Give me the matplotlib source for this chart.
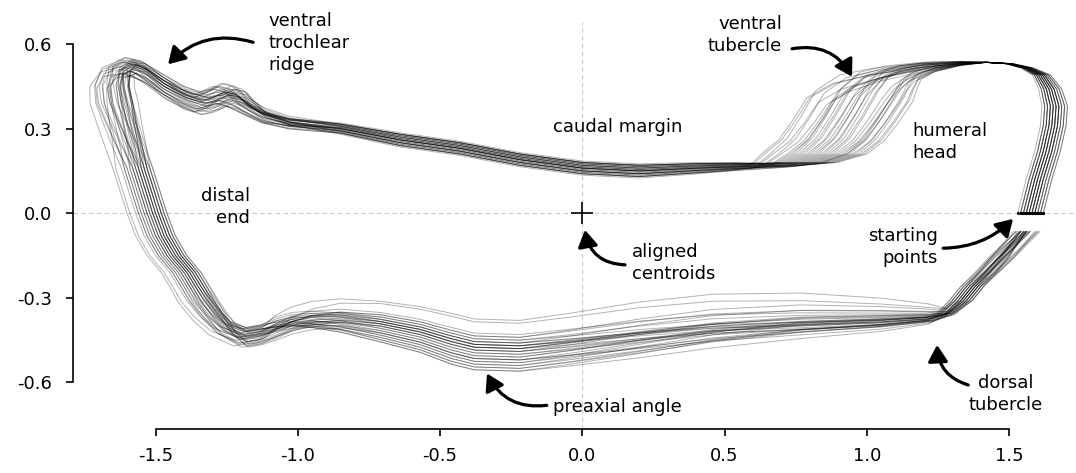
import numpy as np
import matplotlib
matplotlib.use("Agg")
import matplotlib.pyplot as plt

plt.rcParams['font.family'] = ['DejaVu Sans']
plt.rcParams['axes.unicode_minus'] = False

# mean outline (counter-clockwise from the starting point)
mean_x = [1.57, 1.60, 1.63, 1.65, 1.655, 1.64, 1.61, 1.56, 1.50, 1.42,
          1.33, 1.22, 1.13, 1.08, 1.04, 0.99, 0.94, 0.88, 0.80, 0.70,
          0.55, 0.41, 0.20, 0.00, -0.22, -0.43, -0.64, -0.85, -1.03, -1.12,
          -1.18, -1.22, -1.26, -1.30, -1.34, -1.40, -1.47, -1.54, -1.59, -1.63,
          -1.64, -1.63, -1.61, -1.585, -1.56, -1.535, -1.51, -1.48, -1.44, -1.39,
          -1.36, -1.33, -1.29, -1.25, -1.19, -1.13, -1.08, -1.02, -0.95, -0.85,
          -0.71, -0.57, -0.46, -0.38, -0.22, -0.04, 0.20, 0.46, 0.77, 1.05,
          1.22, 1.28, 1.33, 1.37, 1.42, 1.47, 1.51, 1.55]
mean_y = [0.00, 0.12, 0.22, 0.31, 0.38, 0.44, 0.49, 0.515, 0.53, 0.535,
          0.53, 0.515, 0.49, 0.46, 0.41, 0.33, 0.26, 0.21, 0.18, 0.17,
          0.165, 0.16, 0.15, 0.16, 0.19, 0.23, 0.26, 0.30, 0.32, 0.345,
          0.38, 0.41, 0.42, 0.40, 0.39, 0.41, 0.45, 0.50, 0.52, 0.50,
          0.45, 0.39, 0.32, 0.24, 0.16, 0.08, 0.00, -0.08, -0.15, -0.21,
          -0.26, -0.31, -0.365, -0.41, -0.44, -0.43, -0.41, -0.39, -0.38, -0.38,
          -0.40, -0.43, -0.465, -0.485, -0.49, -0.47, -0.44, -0.41, -0.39, -0.38,
          -0.37, -0.355, -0.31, -0.26, -0.21, -0.155, -0.11, -0.065]

# where along the outline each kind of shape difference acts: (first point, weights)
w_head = (0, [1, 1, 1, 1, 1, 0.9, 0.7, 0.5, 0.3, 0.15])
w_head_end = (74, [0.2, 0.4, 0.6, 0.8])
w_tub = (11, [0.2, 0.5, 0.8, 1, 1, 1, 1, 0.8, 0.5, 0.2])
w_tuby = (10, [0.2, 0.5, 0.8, 1, 0.8, 0.5, 0.2])
w_caud = (19, [0.3, 0.6, 0.8, 1, 1, 1, 1, 1, 0.8, 0.6, 0.3])
w_ridge = (28, [0.3, 0.6, 0.8, 1, 1, 1, 1, 1, 1, 1, 0.8, 0.5, 0.2])
w_bump = (29, [0.3, 0.7, 1, 1, 1, 0.7, 0.3])
w_upleft = (37, [0.3, 0.6, 1, 1, 1, 0.7, 0.4])
w_distal = (38, [0.3, 0.6, 0.9, 1, 1, 1, 1, 1, 1, 1, 1, 1, 1, 1, 0.9, 0.7, 0.4, 0.2])
w_low = (51, [0.2, 0.4, 0.7, 1, 1, 1, 0.8, 0.5, 0.2])
w_base = (56, [0.2, 0.35, 0.5, 0.65, 0.8, 0.9, 1, 1, 1, 1, 1, 0.9, 0.7, 0.5, 0.3, 0.1])
w_base2 = (65, [0.2, 0.5, 0.8, 1, 0.8, 0.5, 0.2])
w_dors = (70, [0.4, 0.8, 1, 1, 1, 1, 0.8, 0.6])

# per-specimen differences from the mean, estimated from the spread of lines
tub_dx = [-0.22, -0.15, -0.08, 0.02, 0.08, -0.05, -0.18, 0.05, -0.11, 0.10, -0.02, -0.25,
          0.04, -0.13, 0.07, -0.06, -0.19, 0.12, -0.09, 0.00, -0.16, 0.06, -0.03, -0.21,
          0.09, -0.12, 0.03, -0.07, -0.14, 0.11, -0.01, -0.24, 0.05, -0.10, -0.04, 0.01]
tub_dy = [0.03, -0.01, 0.02, -0.02, 0.00, 0.04, -0.03, 0.01, 0.02, -0.02, 0.03, 0.00,
          -0.01, 0.04, -0.03, 0.01, 0.02, -0.02, 0.00, 0.03, -0.01, 0.01, 0.04, -0.02,
          0.00, 0.02, -0.03, 0.01, 0.03, -0.01, 0.02, 0.00, -0.02, 0.03, 0.01, -0.01]
head_dx = [0.02, -0.03, 0.04, 0.00, -0.01, 0.05, -0.02, 0.01, 0.03, -0.04, 0.02, 0.00,
           -0.01, 0.04, -0.02, 0.01, 0.03, -0.03, 0.00, 0.02, -0.01, 0.05, -0.02, 0.01,
           0.00, -0.03, 0.03, 0.02, -0.01, 0.01, -0.02, 0.04, 0.00, -0.01, 0.02, 0.01]
base_dy = [0.02, -0.05, 0.10, 0.01, -0.03, 0.04, -0.07, 0.00, 0.03, -0.02, 0.06, -0.04,
           0.01, -0.06, 0.02, 0.05, -0.01, 0.03, -0.05, 0.00, 0.11, -0.03, 0.02, -0.02,
           0.04, -0.06, 0.01, 0.03, -0.04, 0.00, 0.02, -0.01, 0.05, -0.03, 0.01, -0.07]
base2_dy = [-0.020, 0.030, 0.010, -0.030, 0.020, 0.000, 0.025, -0.010, -0.025, 0.015, -0.005, 0.030,
            0.000, 0.020, -0.030, 0.010, -0.015, 0.025, 0.005, -0.020, 0.030, -0.010, 0.000, 0.020,
            -0.025, 0.010, 0.015, -0.030, 0.005, 0.020, -0.010, 0.000, 0.030, -0.020, 0.010, -0.005]
low_dy = [0.030, 0.000, -0.020, 0.025, -0.035, 0.010, 0.020, -0.010, 0.035, -0.025, 0.005, 0.015,
          -0.030, 0.020, 0.000, -0.015, 0.030, -0.005, 0.010, -0.030, 0.025, 0.000, -0.020, 0.015,
          -0.010, 0.035, -0.025, 0.005, 0.020, -0.035, 0.010, 0.000, -0.015, 0.030, -0.005, 0.020]
caud_dy = [0.010, -0.020, 0.000, 0.020, -0.010, 0.015, -0.025, 0.005, 0.020, -0.010, 0.000, 0.010,
           -0.020, 0.025, -0.005, 0.010, -0.015, 0.000, 0.020, -0.010, 0.005, -0.020, 0.015, 0.000,
           -0.010, 0.020, -0.005, 0.010, -0.020, 0.000, 0.015, -0.010, 0.005, 0.020, -0.015, 0.000]
ridge_dy = [0.02, -0.03, 0.01, 0.04, -0.02, 0.00, 0.03, -0.04, 0.01, 0.02, -0.01, 0.03,
            -0.03, 0.00, 0.02, -0.02, 0.04, 0.01, -0.01, 0.00, -0.04, 0.02, 0.01, -0.02,
            0.03, 0.00, -0.03, 0.02, 0.01, -0.01, 0.03, -0.02, 0.00, 0.01, -0.03, 0.02]
bump_dx = [0.020, -0.030, 0.040, 0.000, -0.020, 0.030, -0.040, 0.010, 0.020, -0.010, 0.035, -0.025,
           0.000, 0.015, -0.035, 0.030, -0.010, 0.005, 0.025, -0.020, 0.000, 0.040, -0.030, 0.010,
           -0.015, 0.020, 0.030, -0.040, 0.005, -0.010, 0.025, -0.020, 0.015, 0.000, -0.030, 0.035]
upleft_dx = [-0.030, 0.020, 0.000, -0.040, 0.030, 0.010, -0.020, 0.040, -0.010, 0.000, 0.025, -0.035,
             0.015, 0.030, -0.020, 0.000, -0.045, 0.020, 0.035, -0.010, 0.000, -0.025, 0.040, -0.015,
             0.010, 0.030, -0.030, 0.000, 0.020, -0.040, 0.015, 0.025, -0.010, 0.035, -0.020, 0.005]
distal_dx = [-0.02, 0.03, -0.05, 0.01, 0.04, -0.03, 0.00, -0.08, 0.02, 0.05, -0.01, -0.04,
             0.03, 0.00, -0.06, 0.02, 0.04, -0.02, 0.01, -0.09, 0.03, 0.00, -0.03, 0.05,
             -0.01, 0.02, -0.04, 0.01, 0.03, -0.02, 0.00, -0.05, 0.04, 0.01, -0.01, 0.02]
dors_dx = [0.01, -0.02, 0.03, 0.00, -0.03, 0.02, 0.04, -0.01, 0.00, 0.02, -0.04, 0.01,
           0.03, -0.02, 0.00, 0.01, -0.03, 0.04, 0.02, -0.01, 0.00, 0.03, -0.02, 0.01,
           -0.04, 0.02, 0.00, -0.01, 0.03, -0.03, 0.01, 0.02, -0.02, 0.00, 0.04, -0.01]

x_ticks = [-1.5, -1.0, -0.5, 0.0, 0.5, 1.0, 1.5]
x_labels = ["-1.5", "-1.0", "-0.5", "0.0", "0.5", "1.0", "1.5"]
y_ticks = [-0.6, -0.3, 0.0, 0.3, 0.6]
y_labels = ["-0.6", "-0.3", "0.0", "0.3", "0.6"]

n_pts = len(mean_x)


def weights(spec):
    w = np.zeros(n_pts)
    first, vals = spec
    w[first:first + len(vals)] = vals
    return w


x_modes = [(w_head, head_dx), (w_head_end, head_dx), (w_tub, tub_dx), (w_bump, bump_dx),
           (w_upleft, upleft_dx), (w_distal, distal_dx), (w_dors, dors_dx)]
y_modes = [(w_tuby, tub_dy), (w_caud, caud_dy), (w_ridge, ridge_dy), (w_low, low_dy),
           (w_base, base_dy), (w_base2, base2_dy)]

fig = plt.figure(figsize=(10.76, 4.73), dpi=100)
ax = fig.add_axes([73 / 1076, 44 / 473, 1003 / 1076, 407 / 473])

ax.axhline(0, color='#c8c8c8', lw=0.8, ls=(0, (4, 3)), zorder=0)
ax.axvline(0, color='#c8c8c8', lw=0.8, ls=(0, (4, 3)), zorder=0)

start_x = []
start_y = []
for i in range(len(tub_dx)):
    ox = np.array(mean_x, dtype=float)
    oy = np.array(mean_y, dtype=float)
    for spec, vals in x_modes:
        ox = ox + vals[i] * weights(spec)
    for spec, vals in y_modes:
        oy = oy + vals[i] * weights(spec)
    ax.plot(ox, oy, color='black', alpha=0.3, lw=0.7, zorder=2)
    start_x.append(ox[0])
    start_y.append(oy[0])
ax.scatter(start_x, start_y, s=5, color='black', zorder=3, linewidths=0)

# aligned centroids
ax.plot([0], [0], marker='+', color='black', markersize=16, mew=1.2, zorder=4)

fs = 13
ls = 1.3
ax.text(-1.104, 0.604, "ventral\ntrochlear\nridge", ha='left', va='center', fontsize=fs, linespacing=ls)
ax.text(0.702, 0.632, "ventral\ntubercle", ha='right', va='center', fontsize=fs, linespacing=ls)
ax.text(0.125, 0.306, "caudal margin", ha='center', va='center', fontsize=fs)
ax.text(1.159, 0.253, "humeral\nhead", ha='left', va='center', fontsize=fs, linespacing=ls)
ax.text(-1.169, 0.022, "distal\nend", ha='right', va='center', fontsize=fs, linespacing=ls)
ax.text(0.175, -0.176, "aligned\ncentroids", ha='left', va='center', fontsize=fs, linespacing=ls)
ax.text(1.250, -0.120, "starting\npoints", ha='right', va='center', fontsize=fs, linespacing=ls)
ax.text(-0.104, -0.687, "preaxial angle", ha='left', va='center', fontsize=fs)
ax.text(1.489, -0.641, "dorsal\ntubercle", ha='center', va='center', fontsize=fs, linespacing=ls)

arrows = [
    ((-1.157, 0.606), (-1.456, 0.528), 0.3),
    ((0.737, 0.583), (0.948, 0.484), -0.35),
    ((0.150, -0.183), (0.009, -0.059), -0.4),
    ((1.268, -0.124), (1.514, -0.020), 0.2),
    ((-0.125, -0.681), (-0.335, -0.568), -0.35),
    ((1.356, -0.609), (1.247, -0.467), -0.35),
]
for tail, head, rad in arrows:
    ax.annotate("", xy=head, xytext=tail, annotation_clip=False,
                arrowprops=dict(arrowstyle='-|>,head_length=0.5,head_width=0.3',
                                connectionstyle=f'arc3,rad={rad}', color='black',
                                lw=2.3, mutation_scale=20, shrinkA=0, shrinkB=0))

ax.set_xlim(-1.790, 1.735)
ax.set_ylim(-0.765, 0.678)
ax.spines['top'].set_visible(False)
ax.spines['right'].set_visible(False)
ax.spines['left'].set_bounds(-0.6, 0.6)
ax.spines['bottom'].set_bounds(-1.5, 1.5)
ax.spines['left'].set_linewidth(1.2)
ax.spines['bottom'].set_linewidth(1.2)
ax.set_xticks(x_ticks)
ax.set_xticklabels(x_labels)
ax.set_yticks(y_ticks)
ax.set_yticklabels(y_labels)
ax.tick_params(direction='out', length=5, width=1.2, labelsize=13, colors='black')
ax.tick_params(axis='y', pad=10)
ax.tick_params(axis='x', pad=8)

fig.savefig("out.png", dpi=100)
